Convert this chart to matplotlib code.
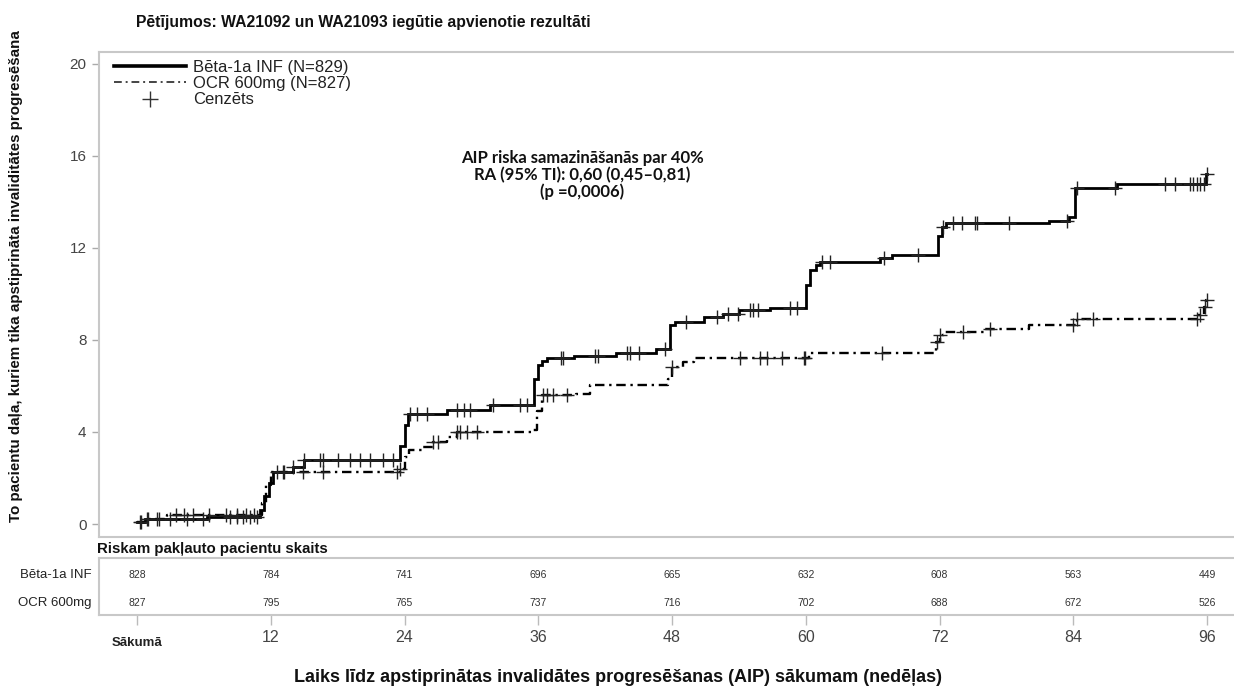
import numpy as np
import matplotlib
matplotlib.use("Agg")
import matplotlib.pyplot as plt
import matplotlib.transforms as mtransforms
from matplotlib.lines import Line2D

plt.rcParams['font.family'] = ['Liberation Sans', 'DejaVu Sans']

# ---------------- data ----------------
title = "Pētījumos: WA21092 un WA21093 iegūtie apvienotie rezultāti"
ylabel = "To pacientu daļa, kuriem tika apstiprināta invaliditātes progresēšana"
xlabel = "Laiks līdz apstiprinātas invalidātes progresēšanas (AIP) sākumam (nedēļas)"
legend_labels = ["Bēta-1a INF (N=829)", "OCR 600mg (N=827)", "Cenzēts"]
annotation = "AIP riska samazināšanās par 40%\nRA (95% TI): 0,60 (0,45–0,81)\n(p =0,0006)"

beta_t = [0, 0.7, 6.3, 11.0, 11.4, 11.8, 12.2, 14.0, 15.0, 23.6, 24.0, 24.3, 27.8, 31.7,
          35.6, 36.0, 36.3, 36.8, 39.2, 43.0, 46.6, 47.8, 48.3, 50.9, 52.6, 54.0, 56.8,
          60.0, 60.4, 60.9, 61.3, 66.7, 67.7, 71.9, 72.2, 72.6, 81.8, 83.6, 84.2, 87.9,
          95.9, 96.0]
beta_v = [0.1, 0.2, 0.32, 0.6, 1.2, 1.8, 2.27, 2.5, 2.78, 3.4, 4.3, 4.78, 4.96, 5.17,
          6.3, 6.9, 7.1, 7.2, 7.32, 7.45, 7.6, 8.65, 8.8, 9.0, 9.15, 9.3, 9.38,
          10.4, 11.05, 11.26, 11.4, 11.55, 11.7, 12.5, 12.93, 13.07, 13.17, 13.36, 14.6, 14.77,
          15.2, 15.2]

ocr_t = [0, 0.8, 2.7, 11.2, 11.6, 12.0, 23.6, 24.0, 24.4, 25.6, 26.6, 27.8, 28.7,
         35.5, 35.9, 36.3, 39.4, 40.6, 47.6, 48.0, 49.0, 50.0, 60.3, 71.7, 72.0, 72.4,
         76.0, 80.0, 84.3, 95.2, 95.7, 95.95, 96.0]
ocr_v = [0.1, 0.22, 0.39, 0.9, 1.7, 2.26, 2.4, 2.9, 3.2, 3.35, 3.57, 3.8, 3.98,
         4.1, 4.9, 5.6, 5.65, 6.04, 6.3, 6.84, 7.06, 7.2, 7.45, 7.93, 8.2, 8.36,
         8.5, 8.65, 8.9, 9.1, 9.45, 9.75, 9.75]

beta_cens = [0.3, 0.9, 1.8, 3.0, 4.5, 5.9, 8.3, 9.0, 9.5, 10.1, 10.8, 13.2, 14.0, 15.0,
             16.4, 16.7, 18.0, 19.1, 20.0, 20.9, 22.1, 23.0, 24.5, 25.1, 26.0, 28.7, 29.3,
             29.9, 31.9, 34.4, 35.0, 38.0, 38.2, 41.1, 41.4, 44.0, 44.2, 45.0, 47.4, 49.3,
             52.0, 53.0, 53.9, 55.0, 55.3, 55.7, 58.6, 59.2, 61.5, 62.2, 67.0, 70.1, 72.3,
             73.2, 74.0, 75.2, 75.4, 78.2, 83.4, 84.3, 87.7, 92.2, 93.1, 94.5, 94.7, 95.1,
             95.4, 95.7, 96.0]
ocr_cens = [0.4, 1.0, 2.0, 3.5, 4.2, 5.0, 6.5, 8.0, 9.0, 9.8, 10.5, 12.6, 13.1, 14.9,
            16.7, 23.3, 23.6, 26.6, 27.0, 28.7, 29.0, 29.6, 30.5, 36.4, 36.8, 37.3, 38.6,
            48.0, 54.1, 55.9, 56.5, 57.9, 59.8, 59.9, 66.8, 71.8, 72.0, 74.1, 76.5, 84.0,
            84.3, 85.8, 95.1, 95.4, 95.8, 96.0]

risk_weeks = [0, 12, 24, 36, 48, 60, 72, 84, 96]
risk_labels = ["Bēta-1a INF", "OCR 600mg"]
risk_beta = [828, 784, 741, 696, 665, 632, 608, 563, 449]
risk_ocr = [827, 795, 765, 737, 716, 702, 688, 672, 526]
xtick_labels = ["Sākumā", "12", "24", "36", "48", "60", "72", "84", "96"]
yticks = [0, 4, 8, 12, 16, 20]
risk_header = "Riskam pakļauto pacientu skaits"

# ---------------- figure ----------------
W, H = 1234, 693
fig = plt.figure(figsize=(W / 100, H / 100), dpi=100)

def fx(px):
    return px / W

def fy(py):
    return 1 - py / H

frame_col = '#c8c8c8'
text_col = '#333333'

ax = fig.add_axes([fx(99), fy(537), fx(1238) - fx(99), fy(52) - fy(537)])
xlim = (-(137 - 99) / 11.146, (1238 - 137) / 11.146)
ax.set_xlim(*xlim)
ax.set_ylim(-13 / 23, 20 + 12 / 23)

for s in ['left', 'top', 'bottom']:
    ax.spines[s].set_color(frame_col)
    ax.spines[s].set_linewidth(1.5)
ax.spines['right'].set_visible(False)

ax.set_yticks(yticks)
ax.set_yticklabels([str(v) for v in yticks], fontsize=11, color='#444444')
ax.tick_params(axis='y', length=5, width=1, color='#aaaaaa', pad=4)
ax.set_xticks([])

def step_val(t, v, x):
    i = np.searchsorted(t, x, side='right') - 1
    return np.asarray(v)[np.clip(i, 0, len(v) - 1)]

ax.step(beta_t, beta_v, where='post', color='black', lw=2.0, solid_joinstyle='miter', zorder=3)
ax.step(ocr_t, ocr_v, where='post', color='black', lw=1.7,
        linestyle=(0, (4, 2, 1, 2)), zorder=3)
ax.plot(beta_cens, step_val(beta_t, beta_v, beta_cens), linestyle='none', marker='+',
        markersize=10, mew=1.0, color='#222222', zorder=4)
ax.plot(ocr_cens, step_val(ocr_t, ocr_v, ocr_cens), linestyle='none', marker='+',
        markersize=10, mew=1.0, color='#222222', zorder=4)

handles = [Line2D([], [], color='black', lw=2.6),
           Line2D([], [], color='#444444', lw=1.4, linestyle=(0, (4, 2, 1, 2))),
           Line2D([], [], color='#333333', marker='+', linestyle='none', markersize=11, mew=1.0)]
leg = ax.legend(handles, legend_labels, loc='upper left', bbox_to_anchor=(0.003, 1.008),
                frameon=False, fontsize=12, handlelength=4.3, handletextpad=0.45,
                labelspacing=0.08, borderaxespad=0.3)
for t in leg.get_texts():
    t.set_color('#222222')

fig.text(fx(582), fy(175), annotation, ha='center', va='center',
         fontsize=12, fontweight='bold', family=['Lato', 'DejaVu Sans'], linespacing=1.05,
         color='#111111')

fig.text(fx(136), fy(22), title, fontsize=11.3, fontweight='bold', ha='left', va='center',
         color='#111111')
fig.text(fx(16), fy(276), ylabel, rotation=90, fontsize=10.9, fontweight='bold',
         ha='center', va='center', color='#111111')

# ---------------- risk table ----------------
ax2 = fig.add_axes([fx(99), fy(615), fx(1238) - fx(99), fy(558) - fy(615)])
ax2.set_xlim(*xlim)
ax2.set_ylim(0, 1)
for s in ['left', 'top', 'bottom']:
    ax2.spines[s].set_color(frame_col)
    ax2.spines[s].set_linewidth(1.5)
ax2.spines['right'].set_visible(False)
ax2.set_yticks([])
ax2.set_xticks(risk_weeks)
ax2.set_xticklabels([])
ax2.tick_params(axis='x', length=7, width=1, color='#bbbbbb')

for w, b, o in zip(risk_weeks, risk_beta, risk_ocr):
    ax2.text(w, 0.70, str(b), ha='center', va='center', fontsize=7.5, color=text_col)
    ax2.text(w, 0.21, str(o), ha='center', va='center', fontsize=7.5, color=text_col)

for lab, py in zip(risk_labels, [575, 603]):
    fig.text(fx(92), fy(py), lab, ha='right', va='center', fontsize=9.5, color='#222222')

fig.text(fx(97), fy(549), risk_header, ha='left', va='center', fontsize=10.8,
         fontweight='bold', color='#111111')

for w, lab in zip(risk_weeks, xtick_labels):
    if w == 0:
        off, kw = 28, dict(fontsize=9.5, fontweight='bold', color='#222222')
    else:
        off, kw = 22, dict(fontsize=11.5, color='#444444')
    tr = ax2.get_xaxis_transform() + mtransforms.ScaledTranslation(0, -off / 100,
                                                                   fig.dpi_scale_trans)
    ax2.text(w, 0, lab, transform=tr, ha='center', va='center', **kw)

fig.text(fx(618), fy(677), xlabel, ha='center', va='center', fontsize=13,
         fontweight='bold', color='#111111')

fig.savefig("out.png", dpi=100, facecolor='white')
